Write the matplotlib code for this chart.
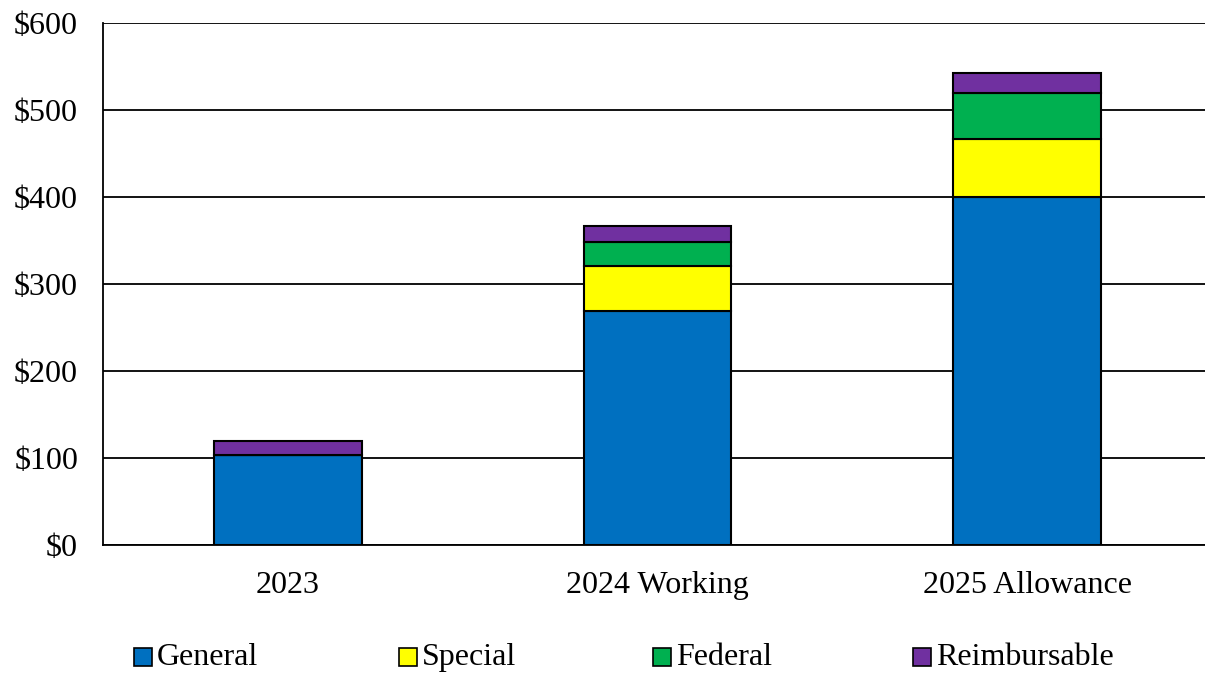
import matplotlib
matplotlib.use("Agg")
import matplotlib.pyplot as plt
from matplotlib.patches import Rectangle
import numpy as np

plt.rcParams["font.family"] = ["Liberation Serif", "DejaVu Serif"]

categories = ["2023", "2024 Working", "2025 Allowance"]
series_names = ["General", "Special", "Federal", "Reimbursable"]
general = [103, 269, 400]
special = [0, 52, 67]
federal = [0, 27, 52]
reimbursable = [17, 19, 23]
colors = ["#0070C0", "#FFFF00", "#00B050", "#7030A0"]
y_ticks = [0, 100, 200, 300, 400, 500, 600]

W, H = 1205, 673
fig = plt.figure(figsize=(W / 100, H / 100), dpi=100)
ax = fig.add_axes([103 / W, 1 - 545 / H, 1109 / W, 522 / H])

x = np.arange(len(categories))
bottom = np.zeros(len(categories))
for name, vals, col in zip(series_names, [general, special, federal, reimbursable], colors):
    vals = np.array(vals, dtype=float)
    ax.bar(x, vals, width=0.4, bottom=bottom, color=col, edgecolor="black",
           linewidth=1.5, label=name, zorder=3)
    bottom += vals

ax.set_xlim(-0.5, 2.5)
ax.set_ylim(0, 600)
ax.set_yticks(y_ticks)
ax.set_yticklabels([f"${v}" for v in y_ticks])
ax.set_xticks(x)
ax.set_xticklabels(categories)
ax.tick_params(axis="both", length=0, labelsize=23, colors="black")
ax.tick_params(axis="y", pad=18)
ax.tick_params(axis="x", pad=19)
ax.yaxis.grid(True, color="black", linewidth=1.3, zorder=0)
ax.set_axisbelow(True)
for s in ["top", "right"]:
    ax.spines[s].set_visible(False)
for s in ["left", "bottom"]:
    ax.spines[s].set_linewidth(1.3)

# legend drawn by hand so every label sits on the same baseline
legend_x = [134, 399, 653, 913]   # left edge of each swatch, px
legend_y = 657                    # vertical centre, px
box = 18
for lx, name, col in zip(legend_x, series_names, colors):
    fig.add_artist(Rectangle((lx / W, 1 - (legend_y + box / 2) / H), box / W, box / H,
                             transform=fig.transFigure, facecolor=col,
                             edgecolor="black", linewidth=1.2))
    fig.text((lx + box + 5) / W, 1 - (legend_y + 8) / H, name, fontsize=23,
             ha="left", va="baseline")

fig.savefig("out.png", dpi=100)
